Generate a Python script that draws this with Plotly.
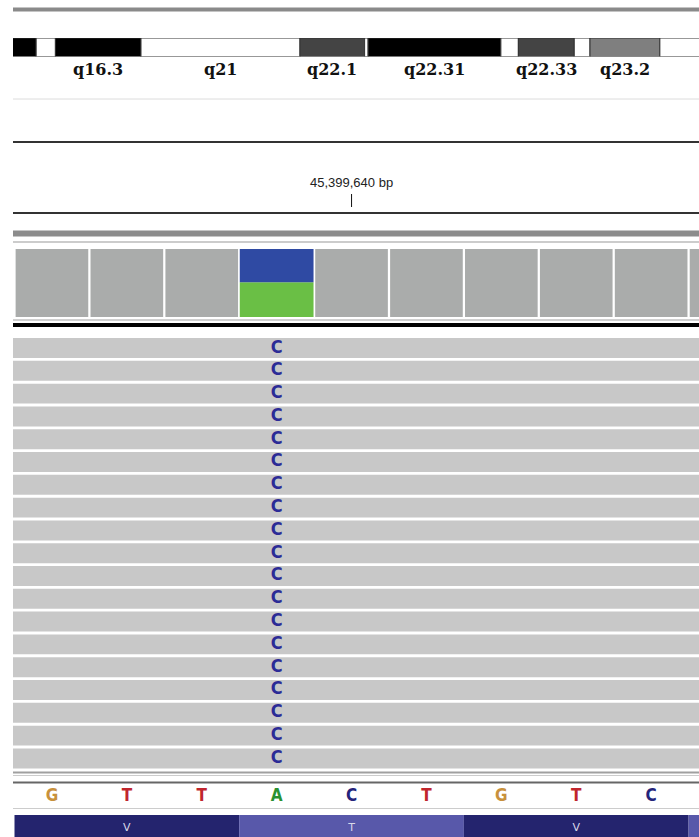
import plotly.graph_objects as go

W, H = 699, 837

# ---------------- data ----------------
# cytobands (chr6, Mb)
band_names = ["q16.1", "q16.2", "q16.3", "q21", "q22.1", "q22.2", "q22.31",
              "q22.32", "q22.33", "q23.1", "q23.2", "q23.3"]
band_start = [93.1, 99.5, 100.6, 105.5, 114.6, 118.3, 118.5, 126.1, 127.1, 130.3, 131.2, 135.2]
band_end = [99.5, 100.6, 105.5, 114.6, 118.3, 118.5, 126.1, 127.1, 130.3, 131.2, 135.2, 139.0]
band_stain = ["gpos100", "gneg", "gpos100", "gneg", "gpos75", "gneg", "gpos100",
              "gneg", "gpos75", "gneg", "gpos50", "gneg"]
ideo_view = [98.173, 137.44]

# genomic window (bp)
positions = [45399636, 45399637, 45399638, 45399639, 45399640,
             45399641, 45399642, 45399643, 45399644, 45399645]
coverage = [39, 39, 39, 39, 39, 39, 39, 39, 39, 39]
variant_pos = 45399639
allele_A = 20
allele_C = 19
ruler_pos = 45399640
ruler_label = "45,399,640 bp"

ref_pos = [45399636, 45399637, 45399638, 45399639, 45399640,
           45399641, 45399642, 45399643, 45399644]
ref_seq = ["G", "T", "T", "A", "C", "T", "G", "T", "C"]

codon_start = [45399636, 45399639, 45399642, 45399645]
amino_acids = ["V", "T", "V", ""]

read_rows = list(range(19))
read_start = [45399561, 45399570, 45399548, 45399590, 45399577, 45399602, 45399555,
              45399583, 45399566, 45399596, 45399588, 45399551, 45399574, 45399608,
              45399560, 45399593, 45399571, 45399585, 45399599]
read_end = [45399662, 45399671, 45399649, 45399691, 45399678, 45399703, 45399656,
            45399684, 45399667, 45399697, 45399689, 45399652, 45399675, 45399709,
            45399661, 45399694, 45399672, 45399686, 45399700]
read_base = ["C"] * 19

# ---------------- styles ----------------
stain_color = {"gneg": "#ffffff", "gpos50": "#7f7f7f", "gpos75": "#444444", "gpos100": "#000000"}
base_color = {"A": "#2a9130", "C": "#24247a", "G": "#c8913c", "T": "#c0252d"}


def py(p):
    return 1 - p / H


px_per_bp = 74.9
plot_w = W - 13
x_view = [45399635.48, 45399635.48 + plot_w / px_per_bp]

fig = go.Figure()

# ideogram
fig.add_trace(go.Bar(
    x=[(s + e) / 2 for s, e in zip(band_start, band_end)],
    y=[1] * len(band_names), base=0,
    width=[e - s for s, e in zip(band_start, band_end)],
    marker=dict(color=[stain_color[s] for s in band_stain], line=dict(color="#333333", width=1)),
    xaxis="x2", yaxis="y5", hoverinfo="skip"))

# coverage
cov_x = [p for p in positions if p != variant_pos]
cov_y = [c for p, c in zip(positions, coverage) if p != variant_pos]
fig.add_trace(go.Bar(x=cov_x, y=cov_y, base=0, width=0.97,
                     marker=dict(color="#aaacab", line=dict(width=0)),
                     xaxis="x", yaxis="y2", hoverinfo="skip"))
fig.add_trace(go.Bar(x=[variant_pos], y=[allele_A], base=[0], width=0.985,
                     marker=dict(color="#6abf45", line=dict(width=0)),
                     xaxis="x", yaxis="y2", hoverinfo="skip"))
fig.add_trace(go.Bar(x=[variant_pos], y=[allele_C], base=[allele_A], width=0.985,
                     marker=dict(color="#2f4aa3", line=dict(width=0)),
                     xaxis="x", yaxis="y2", hoverinfo="skip"))

# reads
fig.add_trace(go.Bar(orientation="h", y=read_rows,
                     x=[e - s for s, e in zip(read_start, read_end)], base=read_start,
                     width=0.875, marker=dict(color="#c8c8c8", line=dict(width=0)),
                     xaxis="x", yaxis="y", hoverinfo="skip"))
fig.add_trace(go.Scatter(x=[variant_pos] * len(read_rows), y=read_rows, mode="text",
                         text=read_base,
                         textfont=dict(family="DejaVu Sans Condensed, DejaVu Sans", size=18,
                                       color="#2b2b96", weight="bold"),
                         xaxis="x", yaxis="y", hoverinfo="skip"))

# reference sequence
fig.add_trace(go.Scatter(x=ref_pos, y=[0.5] * len(ref_pos), mode="text", text=ref_seq,
                         textfont=dict(family="DejaVu Sans Condensed, DejaVu Sans", size=17,
                                       color=[base_color[b] for b in ref_seq], weight="bold"),
                         xaxis="x", yaxis="y3", hoverinfo="skip"))

# amino acids
aa_colors = ["#24246e" if i % 2 == 0 else "#5858aa" for i in range(len(codon_start))]
fig.add_trace(go.Bar(x=[s + 1 for s in codon_start], y=[1] * len(codon_start), base=0, width=3,
                     marker=dict(color=aa_colors, line=dict(width=0)),
                     xaxis="x", yaxis="y4", hoverinfo="skip"))
fig.add_trace(go.Scatter(x=[s + 1 for s in codon_start], y=[0.42] * len(codon_start), mode="text",
                         text=amino_acids,
                         textfont=dict(family="DejaVu Sans", size=11, color="#d8d8e8"),
                         xaxis="x", yaxis="y4", hoverinfo="skip"))

# band labels
annotations = []
for n, s, e in zip(band_names, band_start, band_end):
    if s >= ideo_view[0] and e <= ideo_view[1] and (e - s) > 2:
        annotations.append(dict(x=(s + e) / 2, xref="x2", y=py(69), yref="paper",
                                text="<b>" + n + "</b>", showarrow=False,
                                font=dict(family="DejaVu Serif", size=16, color="#111111"),
                                xanchor="center", yanchor="middle"))
annotations.append(dict(x=ruler_pos, xref="x", y=py(182), yref="paper", text=ruler_label,
                        showarrow=False, font=dict(family="Liberation Sans", size=13, color="#222222"),
                        xanchor="center", yanchor="middle"))

rules = [(9.5, 4, "#8a8a8a"), (99, 1, "#dcdcdc"), (142, 2, "#333333"), (213, 2, "#333333"),
         (233.5, 6, "#8c8c8c"), (242, 1, "#999999"), (320, 1, "#a0a0a0"), (325, 4, "#000000"),
         (772.5, 2, "#a0a0a0"), (775.5, 1, "#cccccc"), (782.5, 2, "#666666"), (808.5, 1, "#cccccc")]
shapes = [dict(type="line", xref="paper", yref="paper", x0=0, x1=1, y0=py(y), y1=py(y),
               line=dict(color=c, width=w)) for y, w, c in rules]
shapes.append(dict(type="line", xref="x", yref="paper", x0=ruler_pos, x1=ruler_pos,
                   y0=py(207), y1=py(194), line=dict(color="#111111", width=1)))

hidden = dict(visible=False, showgrid=False, zeroline=False, fixedrange=True)
fig.update_layout(
    width=W, height=H, margin=dict(l=13, r=0, t=0, b=0),
    paper_bgcolor="white", plot_bgcolor="white", showlegend=False,
    barmode="overlay", hovermode=False,
    xaxis=dict(domain=[0, 1], range=x_view, anchor="y", **hidden),
    xaxis2=dict(domain=[0, 1], range=ideo_view, anchor="y5", **hidden),
    yaxis=dict(domain=[py(769.8), py(336.6)], range=[18.5, -0.5], anchor="x", **hidden),
    yaxis2=dict(domain=[py(317), py(249)], range=[0, 39], anchor="x", **hidden),
    yaxis3=dict(domain=[py(810), py(784)], range=[0, 1], anchor="x", **hidden),
    yaxis4=dict(domain=[0, py(815)], range=[0, 1], anchor="x", **hidden),
    yaxis5=dict(domain=[py(56.5), py(38)], range=[0, 1], anchor="x2", **hidden),
    annotations=annotations, shapes=shapes,
)

fig.write_html("out.html", config={"displayModeBar": False})
